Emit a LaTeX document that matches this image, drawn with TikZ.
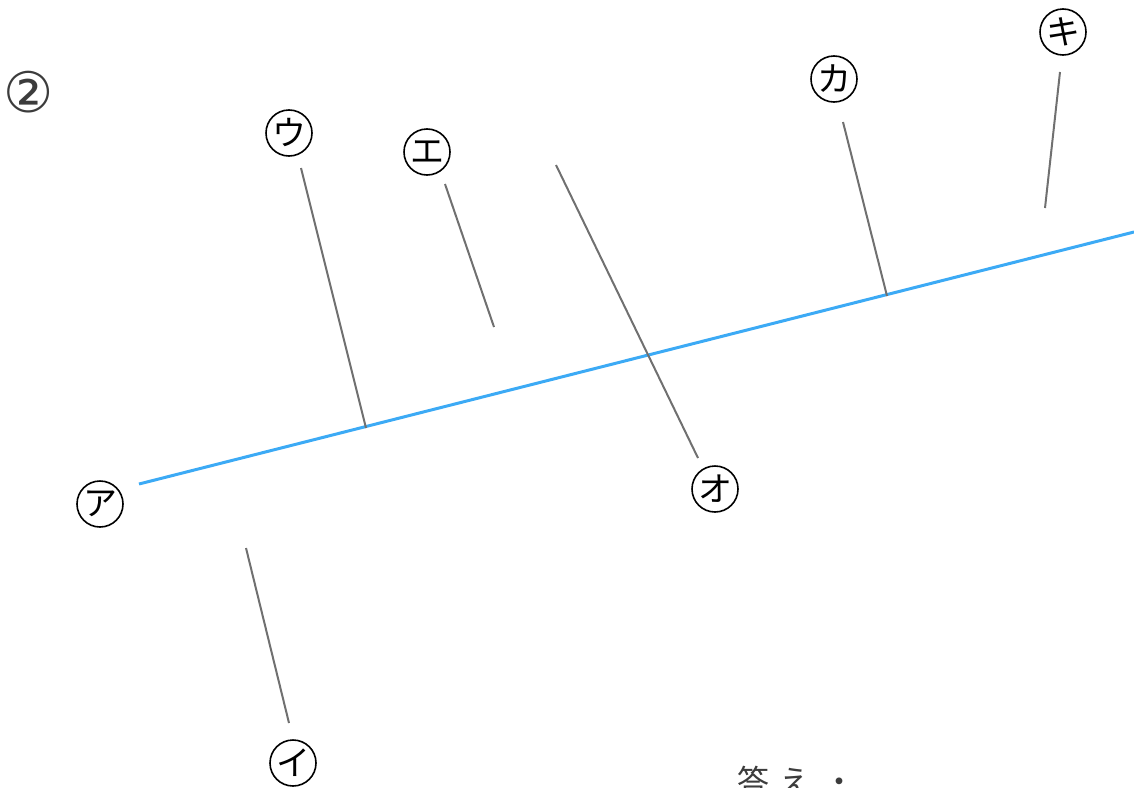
\documentclass[tikz,border=0pt]{standalone}
\usepackage{fontspec}
\newfontfamily\jp{Noto Sans CJK JP}
\newfontfamily\dv{DejaVu Sans}
\definecolor{blueline}{RGB}{60,170,245}
\definecolor{grayline}{RGB}{112,112,112}
\definecolor{txtgray}{RGB}{60,60,60}
\begin{document}
\begin{tikzpicture}[x=1pt,y=-1pt,
  lbl/.style={circle,draw=black,line width=1.6pt,minimum size=46pt,inner sep=0pt,font=\jp\fontsize{34}{34}\selectfont},
  lead/.style={draw=grayline,line width=2pt},
  axisline/.style={draw=blueline,line width=3pt}]
\useasboundingbox (0,0) rectangle (1134,787);
% title number
\node[text=txtgray,font=\dv\fontsize{56}{56}\selectfont] (num) at (29,92) {②};
% labels
\node[lbl] (a) at (100,504) {ア};
\node[lbl] (i) at (293,763) {イ};
\node[lbl] (u) at (289,133) {ウ};
\node[lbl] (e) at (427,152) {エ};
\node[lbl] (o) at (715,489) {オ};
\node[lbl] (ka) at (834,79) {カ};
\node[lbl] (ki) at (1063,32) {キ};
% blue line
\coordinate (bl1) at (139,484);
\coordinate (bl2) at (1134,232);
\draw[axisline] (bl1) -- (bl2);
% leader lines
\coordinate (u1) at (301,168);  \coordinate (u2) at (366,428);
\coordinate (e1) at (445,184);  \coordinate (e2) at (494,327);
\coordinate (o1) at (556,165);  \coordinate (o2) at (698,458);
\coordinate (k1) at (843,122);  \coordinate (k2) at (887,296);
\coordinate (q1) at (1060,72);  \coordinate (q2) at (1045,208);
\coordinate (i1) at (246,548);  \coordinate (i2) at (289,723);
\draw[lead] (u1) -- (u2);
\draw[lead] (e1) -- (e2);
\draw[lead] (o1) -- (o2);
\draw[lead] (k1) -- (k2);
\draw[lead] (q1) -- (q2);
\draw[lead] (i1) -- (i2);
% answer text (cut off at the bottom edge, as in the reference)
\node[anchor=base west,inner sep=0pt,text=txtgray,font=\jp\fontsize{32}{32}\selectfont] (ans) at (737,793) {答\hspace{10pt}え\hspace{12pt}・};
\end{tikzpicture}
\end{document}
